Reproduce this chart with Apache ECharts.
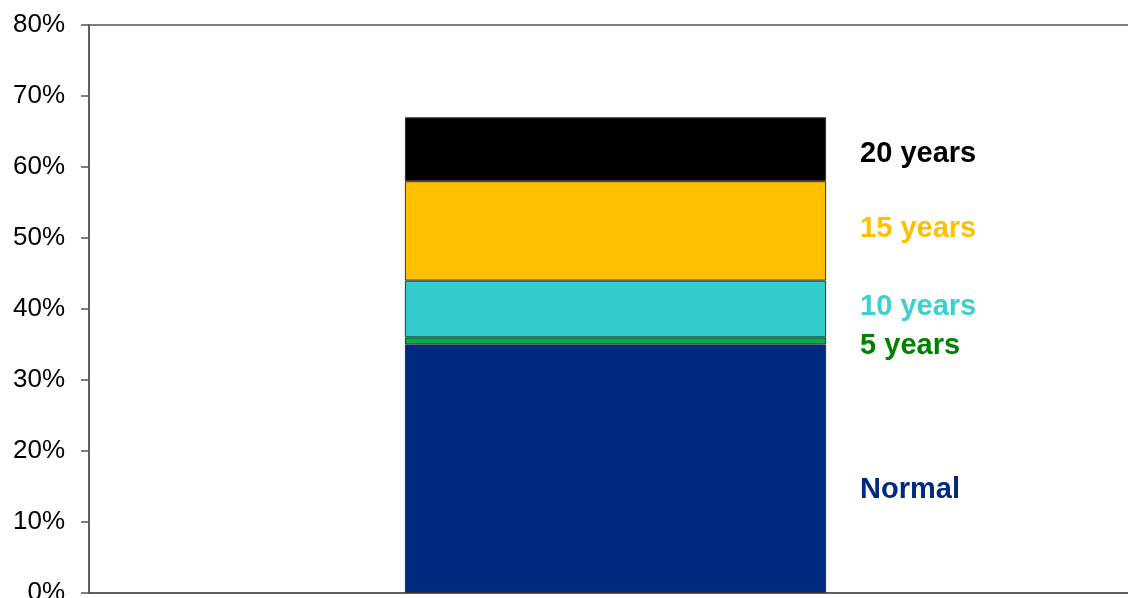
<!DOCTYPE html>
<html><head><meta charset="utf-8">
<script src="https://cdn.jsdelivr.net/npm/echarts@6/dist/echarts.min.js"></script>
<style>html,body{margin:0;padding:0;background:#fff}#c{width:1128px;height:598px}</style>
</head><body><div id="c"></div>
<script>
const categories = [''];
const seriesNames = ['Normal', '5 years', '10 years', '15 years', '20 years'];
const normalValues = [0.35];
const fiveYearValues = [0.01];
const tenYearValues = [0.08];
const fifteenYearValues = [0.14];
const twentyYearValues = [0.09];
const yTicks = ['0%', '10%', '20%', '30%', '40%', '50%', '60%', '70%', '80%'];

const barColors = ['#002A80', '#00B050', '#33CCCC', '#FFC000', '#000000'];
const labelColors = ['#002A80', '#008000', '#3ECFCF', '#FFC000', '#000000'];
const labelOffsets = [[0, 21], [0, 5], [0, -2], [0, -2], [0, 5]];
const dataSets = [normalValues, fiveYearValues, tenYearValues, fifteenYearValues, twentyYearValues];

const chart = echarts.init(document.getElementById('c'));
chart.setOption({
  animation: false,
  grid: { left: 89, right: -14, top: 25, bottom: 5, outerBoundsMode: 'none', containLabel: false,
    show: true, borderColor: '#555', borderWidth: 1.5, backgroundColor: 'transparent' },
  xAxis: { type: 'category', data: categories, axisLine: { lineStyle: { color: '#555', width: 1.5 } }, axisTick: { show: false }, axisLabel: { show: false } },
  yAxis: {
    type: 'value', min: 0, max: 0.8, interval: 0.1,
    axisLine: { show: true, lineStyle: { color: '#555', width: 1.5 } },
    axisTick: { show: true, length: 8, lineStyle: { color: '#555', width: 1.5 } },
    splitLine: { show: false },
    axisLabel: { margin: 24, color: '#000', fontFamily: 'Liberation Sans, Arial, sans-serif', fontSize: 26,
      padding: [5, 0, 0, 0],
      formatter: v => yTicks[Math.round(v * 10)] }
  },
  series: seriesNames.map((n, i) => ({
    name: n, type: 'bar', stack: 'all', barWidth: '40%', data: dataSets[i],
    itemStyle: { color: barColors[i], borderColor: '#333', borderWidth: 1 },
    label: { show: true, position: 'right', distance: 34, offset: labelOffsets[i], formatter: n,
      color: labelColors[i], fontFamily: 'Liberation Sans, Arial, sans-serif', fontWeight: 'bold', fontSize: 29, align: 'left' }
  }))
});
</script></body></html>
